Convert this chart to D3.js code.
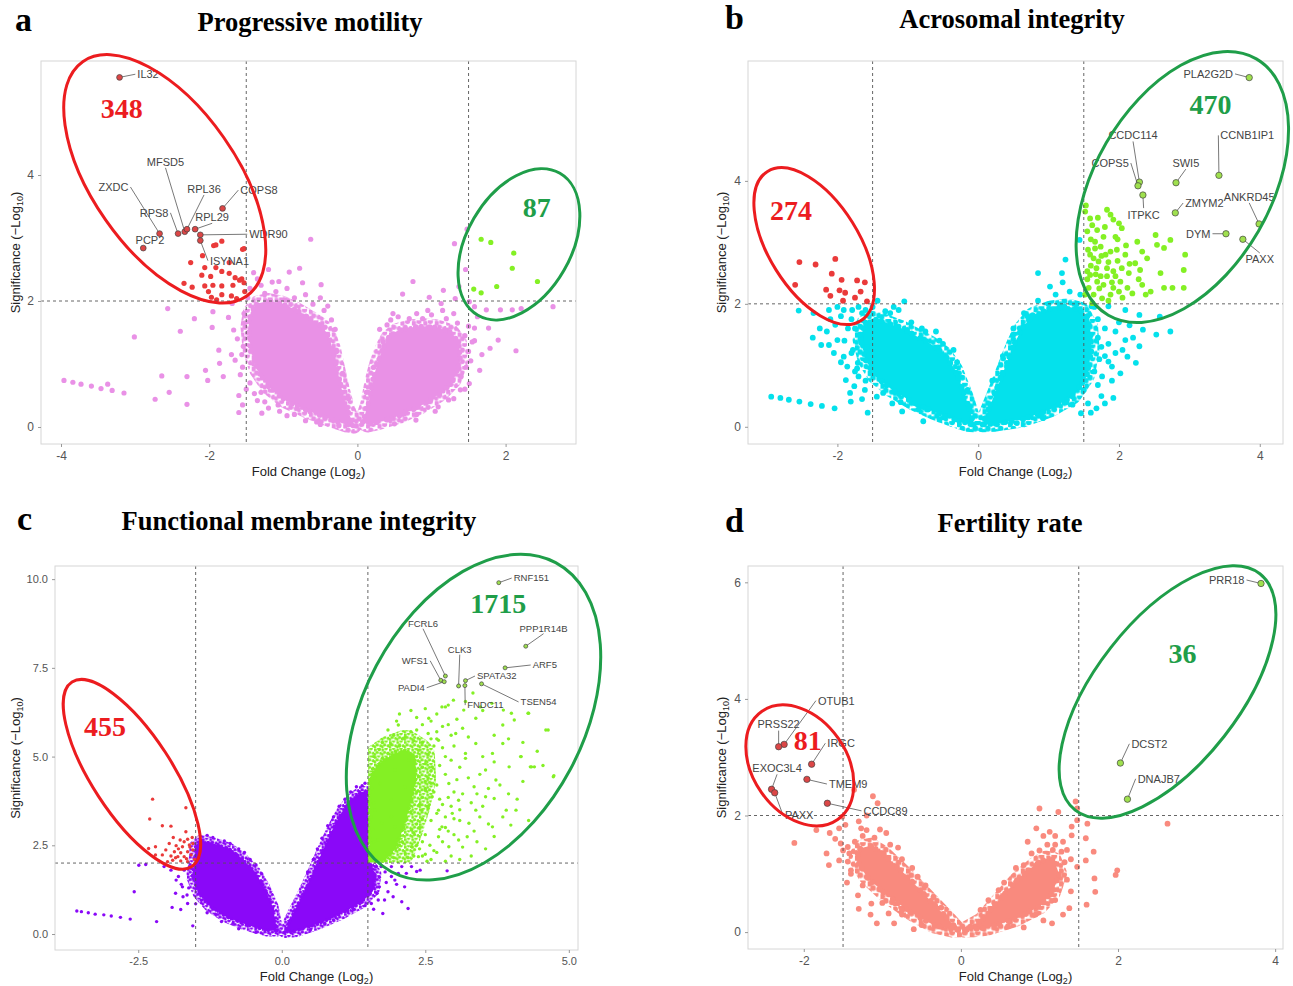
<!DOCTYPE html>
<html lang="en">
<head>
<meta charset="utf-8">
<title>Volcano plots of sperm traits</title>
<script src="https://cdn.jsdelivr.net/npm/d3@7"></script>
<style>
  body { margin: 0; background: #fff; }
</style>
</head>
<body>
<script>
// ---------- panel a : Progressive motility ----------
var aLeftArm = [[-0.05,0.02],[-0.15,0.32],[-0.22,0.64],[-0.28,0.96],[-0.33,1.24],[-0.39,1.44],[-0.46,1.58],[-0.55,1.66],[-0.69,1.76],[-0.83,1.86],[-1.02,1.96],[-1.20,2.00],[-1.35,1.96],[-1.44,1.82],[-1.47,1.59],[-1.44,1.22],[-1.35,0.90],[-1.20,0.64],[-0.97,0.42],[-0.69,0.27],[-0.36,0.12],[-0.15,0.04]];
var aRightArm = [[0.07,0.08],[0.15,0.38],[0.21,0.75],[0.27,1.01],[0.35,1.26],[0.42,1.42],[0.53,1.52],[0.71,1.58],[0.90,1.60],[1.08,1.58],[1.27,1.50],[1.37,1.34],[1.39,1.06],[1.30,0.75],[1.12,0.53],[0.85,0.33],[0.57,0.18],[0.29,0.08],[0.14,0.04]];
var aPoints = [[-3.96,0.74],[-3.84,0.71],[-3.73,0.68],[-3.59,0.65],[-3.46,0.61],[-3.37,0.68],[-3.31,0.58],[-3.15,0.54],
  [-3.01,1.43],[-2.56,1.88],[-2.64,0.81],[-2.73,0.44],[-2.54,0.55],[-2.39,1.52],[-2.30,0.80],[-2.30,0.36],[-2.20,1.72],[-2.05,0.90],[-2.02,0.74],[-1.96,1.58],[-1.95,1.83],[-1.87,1.22],[-1.86,1.01],[-1.81,0.80],[-1.74,1.74],[-1.69,1.96],[-1.67,1.54],[-1.65,1.06],[-1.60,0.23],[-1.58,0.83],[-1.54,1.28],[-1.53,1.80],[-1.29,0.22],[-1.39,0.53],[-1.25,0.40],[-1.07,0.35],[-0.92,2.46],[-0.78,2.52],[-0.74,2.29],[-1.06,2.31],[-0.63,2.98],[-0.49,2.26],
  [0.75,2.31],[0.61,2.11],[0.48,1.80],[0.97,2.06],[1.16,2.17],[1.31,2.91],[1.48,3.14],[1.37,2.23],[1.46,2.50],[1.58,1.91],[1.74,1.86],[1.93,1.86],[2.09,1.86],[2.21,1.88],[2.64,1.91],[1.58,1.57],[1.77,1.57],[1.58,1.37],[1.79,1.25],[1.90,1.38],[2.14,1.21],[1.65,0.90],[1.51,0.69],[1.39,0.59],[1.23,0.43],[1.09,0.32],[0.79,0.11],[1.51,1.99],[1.32,2.04],[1.13,1.96],
  [-1.48,2.05],[-1.45,2.20],[-1.30,2.25],[-1.15,2.30],[-0.95,2.20],[-0.60,1.95],[-0.45,1.85],[-0.35,1.70],[-1.62,1.40],[-1.70,1.15],[-1.55,0.95],[-1.45,0.70],[-1.30,0.55],[-1.05,0.25],[-0.85,0.20],[-0.55,0.08],[-0.25,0.02],
  [-1.35,2.35],[-1.20,2.50],[-1.10,2.15],[-0.85,2.05],[-0.70,2.10],[-0.50,2.05],[-0.40,1.92],[-0.30,1.55],[-1.40,2.45],[-1.50,0.60],[-1.35,0.42],[-1.20,0.30],[-0.95,0.18],[-0.70,0.10],[-0.50,0.04],[-1.60,0.50],[-1.55,0.35],[-0.12,0.45],[-0.20,0.85],[-0.28,1.20],[-1.52,1.65],[-1.56,1.15],[-1.25,2.12],[-0.98,2.02],
  [0.40,1.62],[0.55,1.75],[0.80,1.80],[1.00,1.78],[1.20,1.72],[1.35,1.65],[1.45,1.45],[1.50,1.20],[1.47,0.95],[1.40,0.80],[1.20,0.62],[0.95,0.40],[0.65,0.25],[0.40,0.12],
  [0.30,1.55],[0.45,1.70],[0.70,1.72],[0.95,1.85],[1.15,1.85],[1.30,1.80],[1.50,1.60],[1.55,1.35],[1.53,1.05],[1.45,0.60],[1.30,0.45],[1.05,0.25],[0.80,0.20],[0.50,0.05],[0.12,0.55],[0.22,0.95],[0.35,1.35],[1.62,1.75],[1.68,1.15],[0.88,1.72]];
var aDown = [[-1.83,2.95],[-1.94,2.88],[-2.09,2.72],[-1.55,2.82],[-1.73,2.61],[-1.91,2.53],[-2.06,2.53],[-2.25,2.61],[-2.10,2.41],[-1.98,2.39],[-1.83,2.47],[-1.73,2.44],[-1.65,2.37],[-1.56,2.35],[-2.34,2.28],[-2.23,2.22],[-2.06,2.24],[-1.95,2.25],[-1.83,2.24],[-1.68,2.25],[-1.59,2.33],[-1.53,2.29],[-1.97,2.06],[-1.83,2.10],[-1.70,2.08],[-1.63,2.04],[-1.52,2.15],[-2.01,2.15],[-1.90,2.02],[-1.53,2.83],[-1.91,2.89]];
var aUp = [[1.67,2.98],[1.80,2.93],[2.11,2.76],[2.09,2.52],[2.43,2.31],[1.88,2.23],[1.57,2.19],[1.67,2.13]];
var aGenes = [["IL32",-3.21,5.55],["ZXDC",-2.67,3.07],["PCP2",-2.89,2.84],["RPS8",-2.42,3.07],["MFSD5",-2.33,3.10],["RPL36",-2.30,3.14],["RPL29",-2.19,3.14],["COPS8",-1.82,3.47],["WDR90",-2.12,3.05],["ISYNA1",-2.12,2.96]];
var aGeneText = [[-2.97,5.60,"start"],[-3.09,3.81,"end"],[-2.80,2.96,"middle"],[-2.55,3.40,"end"],[-2.59,4.21,"middle"],[-2.07,3.78,"middle"],[-1.96,3.33,"middle"],[-1.58,3.76,"start"],[-1.46,3.06,"start"],[-1.99,2.64,"start"]];
var aXTicks = [-4, -2, 0, 2];
var aYTicks = [0, 2, 4];
var aCounts = [["348", -3.18, 5.06, "down"], ["87", 2.42, 3.49, "up"]];

// ---------- panel b : Acrosomal integrity ----------
var bLeftArm = [[-0.06,0.04],[-0.18,0.49],[-0.33,0.93],[-0.48,1.18],[-0.69,1.36],[-1.08,1.60],[-1.32,1.70],[-1.50,1.76],[-1.62,1.68],[-1.67,1.41],[-1.60,1.09],[-1.46,0.82],[-1.22,0.60],[-0.93,0.40],[-0.64,0.25],[-0.34,0.12],[-0.16,0.05]];
var bRightArm = [[0.06,0.04],[0.22,0.49],[0.37,0.93],[0.51,1.34],[0.62,1.60],[0.78,1.82],[1.02,1.92],[1.26,1.96],[1.46,1.90],[1.59,1.63],[1.61,1.25],[1.54,0.82],[1.35,0.50],[1.02,0.28],[0.63,0.12],[0.24,0.05]];
var bPoints = [[-2.94,0.49],[-2.81,0.47],[-2.69,0.44],[-2.54,0.41],[-2.38,0.37],[-2.22,0.34],[-2.04,0.30],[-1.57,0.23],
  [-2.55,1.89],[-2.34,1.85],[-2.23,1.33],[-2.15,1.55],[-2.12,1.33],[-2.03,1.66],[-2.00,1.41],[-1.91,1.14],[-1.88,0.76],[-1.81,0.41],[-1.86,0.98],[-1.76,0.66],[-1.71,1.04],[-1.70,0.82],[-1.61,0.60],[-2.12,1.90],[-1.91,1.90],[-1.79,1.90],[-1.43,2.05],[-1.05,2.04],[-1.13,1.90],[-1.32,1.88],[-0.78,0.09],[-1.44,0.49],[-1.22,0.38],[-1.08,0.25],
  [0.85,2.50],[1.19,2.50],[1.24,2.72],[1.02,2.28],[1.44,3.04],[1.61,1.96],[1.85,1.96],[2.09,1.90],[2.29,1.82],[2.58,1.79],[2.73,1.55],[2.34,1.58],[2.53,1.50],[2.09,1.41],[2.29,1.31],[1.95,1.20],[2.12,1.14],[2.24,1.04],[1.90,0.98],[2.02,0.87],[1.70,0.68],[1.92,0.47],[1.80,0.38],[1.56,0.38],[1.68,0.30],[1.34,0.36],[1.46,0.22],[1.60,0.23],[0.92,0.14],[1.76,0.82],[1.85,1.06],
  [-1.75,1.60],[-1.80,1.75],[-1.65,1.85],[-1.50,1.95],[-1.25,1.85],[-0.95,1.70],[-0.75,1.55],[-0.55,1.40],[-0.35,1.25],[-1.78,1.25],[-1.72,0.95],[-1.60,0.75],[-1.35,0.55],[-1.10,0.40],[-0.85,0.28],[-0.55,0.12],
  [-2.10,1.75],[-1.95,1.80],[-1.85,1.60],[-1.90,1.40],[-2.05,1.20],[-1.95,1.05],[-1.80,1.20],[-1.75,0.90],[-1.68,1.50],[-1.58,1.30],[-1.82,0.55],[-1.65,0.45],[-2.25,1.60],[-2.35,1.45],[-1.60,1.90],[-1.70,1.95],[-2.00,1.95],[-0.15,0.60],[-0.30,1.05],[-0.50,1.35],[-0.80,1.60],[-1.20,1.95],[-0.60,1.55],
  [0.50,1.60],[0.65,1.85],[0.85,2.05],[1.10,2.15],[1.30,2.20],[1.45,2.15],[1.55,1.80],[1.70,1.45],[1.72,1.10],[1.65,0.90],[1.50,0.60],[1.25,0.40],[0.90,0.20],[0.55,0.06],
  [1.70,1.75],[1.80,1.60],[1.75,1.30],[1.85,1.35],[1.95,1.55],[2.00,1.70],[1.80,1.15],[1.90,0.75],[1.75,0.50],[1.65,1.95],[2.15,1.65],[2.20,1.45],[2.05,1.25],[0.20,0.75],[0.35,1.15],[0.50,1.50],[0.70,1.80],[1.00,2.00],[1.40,2.00],[1.20,2.35]];
var bDown = [[-2.54,2.68],[-2.31,2.64],[-2.03,2.73],[-2.60,2.31],[-2.08,2.49],[-1.94,2.39],[-1.72,2.38],[-1.61,2.35],[-2.16,2.23],[-1.97,2.22],[-1.89,2.18],[-1.67,2.20],[-2.10,2.13],[-1.92,2.05],[-1.75,2.10],[-1.58,2.04]];
var bUp = [[1.52,3.50],[1.59,3.39],[1.55,3.18],[1.62,3.28],[1.69,3.20],[1.83,3.53],[1.88,3.45],[1.92,3.37],[2.00,3.31],[2.04,3.23],[1.95,3.09],[1.78,3.09],[1.66,3.01],[1.74,2.93],[1.59,2.80],[1.64,2.74],[1.71,2.69],[1.81,2.80],[1.88,2.85],[1.97,2.88],[2.09,2.80],[2.26,3.01],[2.33,2.85],[2.40,2.74],[2.52,3.12],[2.54,2.96],[2.73,3.04],[2.64,2.91],[1.83,2.58],[1.92,2.53],[2.04,2.58],[2.14,2.50],[2.23,2.66],[2.30,2.55],[1.59,2.47],[1.69,2.36],[1.78,2.31],[1.92,2.26],[2.02,2.36],[2.12,2.26],[2.19,2.17],[2.33,2.31],[2.45,2.20],[2.59,2.50],[2.64,2.26],[2.76,2.26],[2.92,2.26],[2.92,2.55],[2.94,2.80],[1.57,2.26],[1.64,2.15],[1.76,2.09],[1.88,2.15],[1.62,2.01],[1.55,2.53],[1.74,2.45],[1.83,2.45],[1.52,2.15],[1.68,2.58],[1.98,2.70],[1.60,3.05],[1.72,2.25],[1.85,2.05],
  [1.55,2.40],[1.60,2.62],[1.66,2.90],[1.75,2.78],[1.85,2.68],[1.95,2.45],[2.05,2.10],[1.56,2.88],[1.70,3.40],[1.80,3.25],[1.98,3.05],[2.10,2.95],[2.15,2.65],[2.28,2.40],[1.67,2.48],[1.90,2.35],[2.00,2.20],[2.38,2.15],[1.53,3.60]];
var bGenes = [["PLA2G2D",3.85,5.68],["CCDC114",2.29,3.98],["COPS5",2.27,3.92],["ITPKC",2.34,3.77],["SWI5",2.81,3.97],["CCNB1IP1",3.42,4.09],["ZMYM2",2.80,3.48],["ANKRD45",3.99,3.30],["DYM",3.52,3.14],["PAXX",3.76,3.05]];
var bGeneText = [[3.62,5.74,"end"],[2.20,4.74,"middle"],[2.14,4.29,"end"],[2.35,3.45,"middle"],[2.95,4.29,"middle"],[3.44,4.74,"start"],[2.94,3.64,"start"],[3.85,3.74,"middle"],[3.30,3.14,"end"],[4.00,2.72,"middle"]];
var bXTicks = [-2, 0, 2, 4];
var bYTicks = [0, 2, 4];
var bCounts = [["274", -2.66, 3.53, "down"], ["470", 3.30, 5.25, "up"]];

// ---------- panel c : Functional membrane integrity ----------
var cLeftArm = [[-0.08,0.10],[-0.16,0.77],[-0.31,1.33],[-0.48,1.78],[-0.69,2.12],[-0.91,2.40],[-1.20,2.56],[-1.42,2.62],[-1.50,2.50],[-1.52,2.00],[-1.56,1.62],[-1.45,1.15],[-1.26,0.80],[-0.96,0.48],[-0.61,0.26],[-0.26,0.10]];
var cRightArm = [[0.05,0.06],[0.20,0.58],[0.38,1.15],[0.54,1.71],[0.70,2.30],[0.87,2.90],[1.04,3.42],[1.21,3.78],[1.38,4.00],[1.49,4.00],[1.50,3.31],[1.50,2.37],[1.52,1.98],[1.63,1.71],[1.60,1.24],[1.38,0.88],[1.03,0.57],[0.62,0.28],[0.24,0.08]];
var cUpCore = [[1.53,2.06],[1.53,4.40],[1.68,4.78],[1.92,5.05],[2.15,5.18],[2.32,5.00],[2.34,4.40],[2.25,3.70],[2.12,3.00],[1.98,2.40],[1.80,2.08]];
var cPoints = [[-3.57,0.65],[-3.49,0.63],[-3.37,0.60],[-3.25,0.56],[-3.10,0.54],[-2.97,0.51],[-2.81,0.47],[-2.64,0.42],
  [-2.57,1.19],[-2.18,0.35],[-1.91,0.75],[-1.76,0.69],[-1.55,0.23],[-2.49,1.94],[-2.37,1.96],[-2.05,1.90],[-1.93,1.80],[-1.84,1.52],[-1.73,1.33],[-1.64,0.86],
  [1.70,1.33],[1.85,1.19],[1.91,1.62],[2.03,1.71],[2.17,1.71],[2.35,1.76],[2.26,1.90],[2.09,1.90],[1.91,1.90],[1.97,1.52],[2.14,1.33],[2.20,0.72],[2.09,0.91],[1.94,1.05],[1.79,0.96],[1.76,0.58],[1.73,1.90],[2.88,1.78],[2.41,1.80],[1.68,0.96],[1.56,0.86],
  [-1.30,2.78],[-1.00,2.62],[-0.75,2.40],[-0.55,2.10],[-0.35,1.70],[-1.70,1.80],[-1.75,1.40],[-1.65,1.10],[-1.50,0.85],[-1.30,0.60],[-1.05,0.35],[-0.75,0.15],[-0.45,0.05],
  [-1.20,2.72],[-0.90,2.55],[-0.65,2.30],[-0.45,1.95],[-1.58,1.85],[-1.62,1.30],[-1.40,0.95],[-1.15,0.55],[-0.85,0.30],[-1.80,1.62],[-1.85,1.15],[-1.72,1.05],
  [0.55,2.10],[0.70,2.70],[0.90,3.30],[1.10,3.80],[1.30,4.15],[1.45,4.25],[1.55,1.95],[1.60,1.50],[1.50,1.10],[1.25,0.70],[0.90,0.40],[0.50,0.12],
  [0.45,1.75],[0.62,2.40],[0.80,3.05],[1.00,3.60],[1.20,4.00],[1.40,4.18],[1.65,1.90],[1.70,1.60],[1.66,1.15],[1.45,0.80],[1.15,0.62],[0.75,0.30],[1.80,1.75],[1.82,1.45],[2.00,1.40],[1.60,0.70]];
var cDown = [[-2.25,3.80],[-1.67,3.56],[-2.30,3.24],[-2.08,3.05],[-1.93,3.04],[-1.67,2.88],[-1.89,2.72],[-1.77,2.65],[-1.64,2.67],[-1.56,2.72],[-1.96,2.55],[-1.84,2.49],[-1.73,2.46],[-1.61,2.51],[-2.20,2.46],[-2.32,2.41],[-2.02,2.37],[-1.87,2.32],[-1.76,2.29],[-1.64,2.32],[-1.55,2.37],[-2.08,2.23],[-1.93,2.20],[-1.81,2.18],[-1.70,2.18],[-1.58,2.23],[-1.90,2.08],[-1.76,2.06],[-1.64,2.04],[-1.52,2.10],[-2.20,2.23],[-1.99,2.04],[-1.60,2.45],[-1.70,2.60],[-1.80,2.40],[-1.55,2.55],[-1.66,2.12],[-1.85,2.15]];
var cUp = [[2.03,5.89],[2.56,6.08],[2.85,6.40],[3.17,6.31],[3.38,6.08],[3.85,5.89],[4.05,6.03],[4.29,6.22],[4.64,5.75],[4.17,5.00],[4.35,4.71],[4.40,4.71],[4.73,4.43],[3.96,4.71],[3.73,4.34],[3.55,3.87],[3.70,3.82],[3.91,3.49],[4.08,3.49],[3.67,3.02],[3.99,3.07],[3.38,3.49],[3.26,3.12],[3.08,2.65],[3.23,2.74],[2.91,2.46],[2.73,2.74],[2.53,2.05],[2.38,2.18],[2.26,2.46],[2.15,2.27],[2.79,3.02],[2.97,3.40],[3.08,3.77],[3.35,4.15],[3.55,4.62],[3.67,5.09],[3.85,5.37],[3.38,5.37],[3.20,5.09],[3.03,5.65],[2.73,5.46],[2.38,5.18],[2.21,4.90],[1.97,4.62],[1.85,5.09],[1.71,4.24],[1.91,3.77],[2.15,4.15],[2.38,4.43],[2.62,4.71],[2.85,5.00],[2.91,4.24],[2.62,3.87],[2.44,3.49],[2.73,3.49],[1.97,3.02],[1.68,2.65],[1.79,2.27],[2.03,2.65],[2.26,2.93],[1.91,3.31],[1.62,3.49],[1.74,3.12],[2.26,3.77],[2.50,4.06],
  [2.79,6.40],[3.33,6.79],[2.99,6.59],[3.46,6.40],[3.66,6.50],[3.86,6.31],[4.00,6.22],[4.60,5.75],[4.30,6.22],[4.16,5.00],[4.33,4.71],[4.74,4.46],
  [2.50,4.80],[2.60,5.50],[2.45,5.90],[2.70,5.70],[2.90,5.90],[2.55,4.40],[2.70,4.20],[2.85,4.50],[2.60,3.20],[2.50,2.80],[2.40,2.40],[2.30,2.20],[2.00,6.00],[2.25,5.70],[2.75,3.80],[3.00,4.00],[2.85,3.00],[2.95,3.60],[3.10,3.20],[3.25,4.40],[2.35,6.10],[1.75,5.40],[1.60,5.00],[2.45,2.60],[2.55,3.60],[2.65,2.35],[2.35,3.10],[2.45,5.40],[2.10,5.50],
  [1.55,2.30],[1.60,2.60],[1.58,2.95],[1.56,3.30],[1.60,3.70],[1.57,4.10],[1.62,4.40],[1.70,4.70],[1.80,4.90],[1.90,5.35],[2.05,5.30],[2.15,5.55],[2.30,5.45],[2.35,5.75],[2.55,5.65],[2.60,6.00],[2.70,6.20],[2.80,5.85],[2.95,5.60],[3.05,6.05],[3.15,5.80],[3.25,5.55],[3.00,5.30],[2.80,5.25],[2.65,5.30],[2.95,4.90],[3.10,4.70],[3.20,4.95],[2.75,4.75],[2.60,4.60],[2.50,4.30],[2.65,4.00],[2.80,3.65],[2.90,3.85],[3.05,4.35],[3.15,3.95],[3.30,3.70],[3.40,3.95],[3.10,3.50],[3.00,3.25],[2.90,2.90],[2.80,2.60],[2.70,2.30],[2.60,2.10],[2.95,2.20],[3.15,2.45],[3.35,2.90],[3.45,3.30],[3.50,3.60],[3.60,4.10],[3.45,4.50],[3.50,5.00],[3.70,4.85],[3.80,4.20],[3.85,3.30],[3.60,3.10],[3.40,2.60],[2.45,2.20],[2.35,2.50],[2.20,2.15],[2.10,2.60],[2.30,2.85],[2.45,3.25],[2.55,3.55],[2.40,3.65],[2.50,4.10],[2.35,4.00],[2.45,4.70],[2.35,5.00],[2.55,5.05],[2.70,5.50],[2.90,6.45],[3.20,6.55],[3.50,6.30],[3.70,5.60],[3.95,5.50],[4.20,5.40],[4.45,5.15],[4.55,4.75],[4.20,4.30],[3.95,3.95],[4.10,3.80],[4.30,3.20],[3.70,2.75],[3.55,2.40],[3.30,2.20],[3.10,2.10],[2.85,2.05],[1.75,2.10],[1.65,2.35],[1.95,5.60],[1.70,5.20],[1.85,5.75],[2.05,6.20],[2.25,6.30],[2.50,6.35],
  [2.32,4.65],[2.30,4.20],[2.25,3.45],[2.15,3.20],[2.05,2.50],[1.95,2.15],[2.20,5.15],[1.98,5.15],[1.75,4.95],[1.58,4.65],[2.40,3.00],[2.45,3.85],[2.60,4.25],[2.70,3.40],[2.85,3.30],[3.00,2.80],[2.75,2.95],[2.58,2.50],[2.50,2.25]];
var cGenes = [["RNF151",3.78,9.90],["PPP1R14B",4.25,8.11],["ARF5",3.89,7.50],["FCRL6",2.85,7.27],["WFS1",2.77,7.15],["PADI4",2.83,7.11],["CLK3",3.08,6.99],["SPATA32",3.20,7.14],["FNDC11",3.19,7.00],["TSEN54",3.48,7.05]];
var cGeneText = [[4.04,10.03,"start"],[4.56,8.61,"middle"],[4.37,7.58,"start"],[2.46,8.75,"middle"],[2.55,7.70,"end"],[2.49,6.94,"end"],[3.10,8.02,"middle"],[3.40,7.27,"start"],[3.23,6.45,"start"],[4.16,6.54,"start"]];
var cXTicks = [-2.5, 0, 2.5, 5];
var cYTicks = [0, 2.5, 5, 7.5, 10];
var cCounts = [["455", -3.08, 5.86, "down"], ["1715", 3.77, 9.32, "up"]];

// ---------- panel d : Fertility rate ----------
var dLeftArm = [[-0.04,0.04],[-0.23,0.32],[-0.48,0.67],[-0.74,1.03],[-1.00,1.36],[-1.15,1.48],[-1.28,1.44],[-1.33,1.25],[-1.20,0.95],[-0.95,0.64],[-0.65,0.35],[-0.35,0.12],[-0.10,0.04]];
var dRightArm = [[0.05,0.04],[0.26,0.20],[0.49,0.55],[0.72,0.90],[0.92,1.13],[1.08,1.26],[1.18,1.24],[1.25,1.00],[1.17,0.68],[1.00,0.44],[0.70,0.23],[0.35,0.08],[0.10,0.04]];
var dPoints = [[-2.12,1.53],[-1.84,1.75],[-1.67,1.70],[-1.68,1.15],[-1.71,1.35],[-1.55,1.23],[-1.53,1.52],[-1.51,1.98],[-1.36,2.44],[-1.12,2.33],[-1.06,2.21],[-1.27,1.78],[-1.03,1.76],[-1.40,1.06],[-1.31,0.63],[-1.14,0.49],[-1.07,0.15],[-0.92,0.32],[-0.75,0.38],[-1.47,1.84],[-1.55,1.78],[-1.44,1.46],[-1.44,1.21],
  [1.00,2.12],[1.24,2.06],[1.46,2.24],[1.48,2.12],[1.41,1.81],[1.41,1.66],[1.61,1.86],[1.59,1.61],[1.69,1.38],[1.59,1.23],[1.48,1.12],[1.70,0.92],[1.71,0.69],[1.60,0.47],[1.38,0.41],[1.16,0.15],[1.99,1.06],[1.97,0.98],[2.63,1.86],[1.48,1.92],[1.13,1.72],[0.96,1.78],[1.17,1.41],[1.35,1.41],
  [-1.25,1.65],[-1.10,1.62],[-0.90,1.50],[-0.75,1.25],[-0.55,0.95],[-0.35,0.60],[-1.42,1.35],[-1.40,1.00],[-1.25,0.80],[-1.00,0.50],[-0.75,0.30],[-0.50,0.12],
  [-1.35,1.55],[-1.20,1.75],[-0.95,1.70],[-0.80,1.45],[-1.50,1.40],[-1.45,0.85],[-1.30,0.40],[-1.15,0.30],[-0.85,0.15],[-0.60,0.05],[-0.62,1.10],[-0.45,0.80],[-0.25,0.42],
  [0.35,0.55],[0.55,0.85],[0.80,1.15],[1.00,1.40],[1.20,1.50],[1.32,1.20],[1.35,0.90],[1.20,0.55],[0.95,0.30],[0.60,0.10],[-1.60,1.60],[-1.30,1.90],[-1.20,2.00],[0.85,1.55],[1.05,1.65],
  [1.20,1.65],[1.30,1.55],[1.10,1.50],[0.90,1.35],[0.70,1.10],[1.40,1.25],[1.40,0.70],[1.30,0.30],[1.05,0.20],[0.80,0.08],[0.25,0.38],[0.48,0.72],[1.28,1.38]];
var dDown = [];
var dUp = [];
var dGenes = [["OTUB1",-2.25,3.22],["PRSS22",-2.32,3.18],["IRGC",-1.90,2.88],["EXOC3L4",-2.41,2.45],["PAXX",-2.37,2.39],["TMEM9",-1.96,2.62],["CCDC89",-1.70,2.21],["PRR18",3.82,5.98],["DCST2",2.03,2.90],["DNAJB7",2.12,2.28]];
var dGeneText = [[-1.82,3.97,"start"],[-2.32,3.56,"middle"],[-1.70,3.24,"start"],[-2.34,2.81,"middle"],[-2.24,2.01,"start"],[-1.68,2.54,"start"],[-1.24,2.08,"start"],[3.61,6.04,"end"],[2.17,3.23,"start"],[2.25,2.63,"start"]];
var dXTicks = [-2, 0, 2, 4];
var dYTicks = [0, 2, 4, 6];
var dCounts = [["81", -1.95, 3.29, "down"], ["36", 2.82, 4.79, "up"]];

// ---------- layout and styling ----------
var RED = "#ea3a3a", GREEN = "#84f024", RING_RED = "#ec1c1f", RING_GREEN = "#1f9e49";
var SANS = "Liberation Sans, Arial, Helvetica, sans-serif";
var SERIF = "Liberation Serif, Times New Roman, serif";

var panels = [
  { id: "a", title: "Progressive motility", box: [41, 61, 576, 444], xd: [-4.27, 2.95], yd: [-0.27, 5.81],
    xt: aXTicks, yt: aYTicks, fmt: String, color: "#e991e6", r: 2.6, halo: 8,
    arms: [aLeftArm, aRightArm], core: null, pts: aPoints, down: aDown, up: aUp,
    genes: aGenes, geneText: aGeneText, counts: aCounts, labelFont: 11, tickFont: 12,
    rings: [[-2.60, 3.94, 143, 72, 55, "down"], [2.18, 2.90, 82, 52, -60, "up"]],
    letter: [15, 31], titleXY: [310, 31], xTitleY: 476, yTitleX: 15 },
  { id: "b", title: "Acrosomal integrity", box: [748, 61, 1283, 444], xd: [-3.27, 4.33], yd: [-0.28, 5.95],
    xt: bXTicks, yt: bYTicks, fmt: String, color: "#04e1ec", r: 2.9, halo: 8,
    arms: [bLeftArm, bRightArm], core: null, pts: bPoints, down: bDown, up: bUp,
    genes: bGenes, geneText: bGeneText, counts: bCounts, labelFont: 11, tickFont: 12,
    rings: [[-2.33, 2.94, 88, 45, 58, "down"], [2.90, 3.90, 148, 88, -60, "up"]],
    letter: [725, 29], titleXY: [1012, 28], xTitleY: 476, yTitleX: 721 },
  { id: "c", title: "Functional membrane integrity", box: [55, 566, 578, 950], xd: [-3.95, 5.16], yd: [-0.45, 10.37],
    xt: cXTicks, yt: cYTicks, fmt: function(d) { return d.toFixed(1); }, color: "#8a08f8", r: 1.7, halo: 6,
    arms: [cLeftArm, cRightArm], core: cUpCore, pts: cPoints, down: cDown, up: cUp,
    genes: cGenes, geneText: cGeneText, counts: cCounts, labelFont: 9.5, tickFont: 11,
    rings: [[-2.61, 4.50, 110, 40, 57, "down"], [3.34, 6.11, 175, 110, -62, "up"]],
    letter: [17, 530], titleXY: [299, 530], xTitleY: 981, yTitleX: 15 },
  { id: "d", title: "Fertility rate", box: [748, 566, 1283, 949], xd: [-2.71, 4.10], yd: [-0.29, 6.28],
    xt: dXTicks, yt: dYTicks, fmt: String, color: "#f98a7e", r: 2.9, halo: 8,
    arms: [dLeftArm, dRightArm], core: null, pts: dPoints, down: dDown, up: dUp,
    genes: dGenes, geneText: dGeneText, counts: dCounts, labelFont: 11, tickFont: 12,
    rings: [[-2.05, 2.86, 66, 47, 55, "down"], [2.63, 4.12, 150, 72, -52, "up"]],
    letter: [725, 532], titleXY: [1010, 532], xTitleY: 981, yTitleX: 721 }
];

var svg = d3.select("body").append("svg")
  .attr("width", 1293)
  .attr("height", 986)
  .attr("font-family", SANS);
var defs = svg.append("defs");

// speckle texture used for the thinning edge of the dense clouds
function speckle(id, col, r) {
  var s = r * 4.4;
  var pat = defs.append("pattern").attr("id", id).attr("patternUnits", "userSpaceOnUse")
    .attr("width", s).attr("height", s);
  [[0.15, 0.25], [0.62, 0.1], [0.42, 0.6], [0.9, 0.72], [0.08, 0.85]].forEach(function(o) {
    pat.append("circle").attr("cx", o[0] * s).attr("cy", o[1] * s).attr("r", r).attr("fill", col);
  });
  return "url(#" + id + ")";
}

panels.forEach(drawPanel);

function drawPanel(p) {
  var b = p.box;
  var x = d3.scaleLinear().domain(p.xd).range([b[0], b[2]]);
  var y = d3.scaleLinear().domain(p.yd).range([b[3], b[1]]);
  var g = svg.append("g");

  g.append("clipPath").attr("id", "clip-" + p.id)
    .append("rect").attr("x", b[0]).attr("y", b[1]).attr("width", b[2] - b[0]).attr("height", b[3] - b[1]);
  // the up-regulated block only lives right of the fold-change cut and above the p cut
  g.append("clipPath").attr("id", "clipup-" + p.id)
    .append("rect").attr("x", x(1.5)).attr("y", b[1]).attr("width", b[2] - x(1.5)).attr("height", y(2) - b[1]);
  var plot = g.append("g").attr("clip-path", "url(#clip-" + p.id + ")");

  // dense cores of the cloud: speckled halo, solid fill, beaded rim
  var outline = d3.line().x(function(d) { return x(d[0]); }).y(function(d) { return y(d[1]); }).curve(d3.curveLinearClosed);
  function blob(layer, data, col, halo, key) {
    var tex = speckle("sp-" + p.id + "-" + key, col, p.r);
    layer.selectAll(null).data(data).enter().append("path")
      .attr("d", outline).attr("fill", "none").attr("stroke", tex)
      .attr("stroke-width", halo * 2).attr("stroke-linejoin", "round");
    layer.selectAll(null).data(data).enter().append("path")
      .attr("d", outline).attr("fill", col);
    layer.selectAll(null).data(data).enter().append("path")
      .attr("d", outline).attr("fill", "none").attr("stroke", col)
      .attr("stroke-width", p.r * 2).attr("stroke-linecap", "round")
      .attr("stroke-dasharray", [0, p.r * 2.2, 0, p.r * 3.4, 0, p.r * 1.8, 0, p.r * 4].map(function(v) { return v.toFixed(1); }).join(","));
  }
  blob(plot, p.arms, p.color, p.halo, "bg");

  plot.selectAll(null).data(p.pts).enter().append("circle")
    .attr("cx", function(d) { return x(d[0]); }).attr("cy", function(d) { return y(d[1]); })
    .attr("r", p.r).attr("fill", p.color);

  if (p.core) blob(plot.append("g").attr("clip-path", "url(#clipup-" + p.id + ")"), [p.core], GREEN, 20, "up");
  plot.selectAll(null).data(p.down).enter().append("circle")
    .attr("cx", function(d) { return x(d[0]); }).attr("cy", function(d) { return y(d[1]); })
    .attr("r", p.r).attr("fill", RED);
  plot.selectAll(null).data(p.up).enter().append("circle")
    .attr("cx", function(d) { return x(d[0]); }).attr("cy", function(d) { return y(d[1]); })
    .attr("r", p.r).attr("fill", GREEN);

  // thresholds
  function dashed(sel) {
    sel.attr("stroke", "#555").attr("stroke-width", 0.9).attr("stroke-dasharray", "3,3");
  }
  [-1.5, 1.5].forEach(function(v) {
    dashed(plot.append("line").attr("x1", x(v)).attr("x2", x(v)).attr("y1", b[1]).attr("y2", b[3]));
  });
  dashed(plot.append("line").attr("x1", b[0]).attr("x2", b[2]).attr("y1", y(2)).attr("y2", y(2)));

  // labelled genes
  p.genes.forEach(function(gn, i) {
    var t = p.geneText[i];
    var px = x(gn[1]), py = y(gn[2]), tx = x(t[0]), ty = y(t[1]);
    var ex = tx, ey = ty;
    if (t[2] === "start") ex = tx - 2;
    else if (t[2] === "end") ex = tx + 2;
    else ey = py > ty ? ty + p.labelFont * 0.55 : ty - p.labelFont * 0.6;
    if (Math.hypot(ex - px, ey - py) > 8) {
      g.append("line").attr("x1", px).attr("y1", py).attr("x2", ex).attr("y2", ey)
        .attr("stroke", "#555").attr("stroke-width", 0.8);
    }
    g.append("circle").attr("cx", px).attr("cy", py).attr("r", p.r + 0.3)
      .attr("fill", gn[1] < 0 ? "#dc4646" : "#9fe04e").attr("stroke", "#444").attr("stroke-width", 0.7);
    g.append("text").attr("x", tx).attr("y", ty).attr("dy", "0.35em")
      .attr("text-anchor", t[2]).attr("font-size", p.labelFont).attr("fill", "#444").text(gn[0]);
  });

  // panel border
  g.append("rect").attr("x", b[0]).attr("y", b[1]).attr("width", b[2] - b[0]).attr("height", b[3] - b[1])
    .attr("fill", "none").attr("stroke", "#d6d6d6").attr("stroke-width", 1);

  // axes
  var xa = g.append("g").attr("transform", "translate(0," + b[3] + ")")
    .call(d3.axisBottom(x).tickValues(p.xt).tickSize(3).tickPadding(4).tickFormat(p.fmt));
  var ya = g.append("g").attr("transform", "translate(" + b[0] + ",0)")
    .call(d3.axisLeft(y).tickValues(p.yt).tickSize(3).tickPadding(4).tickFormat(p.fmt));
  [xa, ya].forEach(function(a) {
    a.select(".domain").remove();
    a.attr("font-family", SANS).attr("font-size", p.tickFont);
    a.selectAll("line").attr("stroke", "#999");
    a.selectAll("text").attr("fill", "#555");
  });

  var xt = g.append("text").attr("x", (b[0] + b[2]) / 2).attr("y", p.xTitleY)
    .attr("text-anchor", "middle").attr("font-size", 13).attr("fill", "#222");
  xt.append("tspan").text("Fold Change (Log");
  xt.append("tspan").attr("font-size", 9).attr("dy", 3).text("2");
  xt.append("tspan").attr("dy", -3).text(")");

  var yt = g.append("text").attr("transform", "translate(" + p.yTitleX + "," + (b[1] + b[3]) / 2 + ") rotate(-90)")
    .attr("dy", "0.35em").attr("text-anchor", "middle").attr("font-size", 13).attr("fill", "#222");
  yt.append("tspan").text("Significance (\u2212Log");
  yt.append("tspan").attr("font-size", 9).attr("dy", 3).text("10");
  yt.append("tspan").attr("dy", -3).text(")");

  // rings around the significant genes
  p.rings.forEach(function(e) {
    g.append("ellipse").attr("cx", 0).attr("cy", 0).attr("rx", e[2]).attr("ry", e[3])
      .attr("transform", "translate(" + x(e[0]) + "," + y(e[1]) + ") rotate(" + e[4] + ")")
      .attr("fill", "none").attr("stroke", e[5] === "down" ? RING_RED : RING_GREEN).attr("stroke-width", 3);
  });
  p.counts.forEach(function(c) {
    g.append("text").attr("x", x(c[1])).attr("y", y(c[2])).attr("dy", "0.35em")
      .attr("text-anchor", "middle").attr("font-family", SERIF)
      .attr("font-weight", "bold").attr("font-size", 28)
      .attr("fill", c[3] === "down" ? RING_RED : RING_GREEN).text(c[0]);
  });

  // titles
  g.append("text").attr("x", p.letter[0]).attr("y", p.letter[1])
    .attr("font-family", SERIF).attr("font-weight", "bold")
    .attr("font-size", 34).attr("fill", "#000").text(p.id);
  g.append("text").attr("x", p.titleXY[0]).attr("y", p.titleXY[1]).attr("text-anchor", "middle")
    .attr("font-family", SERIF).attr("font-weight", "bold")
    .attr("font-size", 26.5).attr("fill", "#000").text(p.title);
}
</script>
</body>
</html>
